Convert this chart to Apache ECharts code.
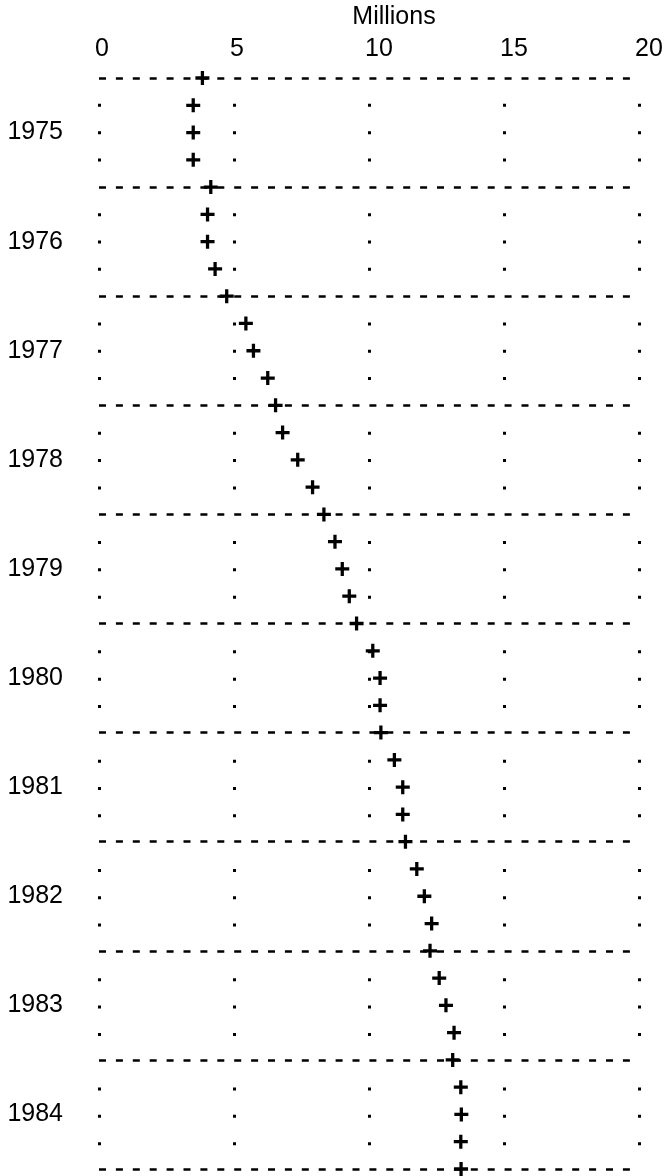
<!DOCTYPE html>
<html>
<head>
<meta charset="utf-8">
<script src="https://cdn.jsdelivr.net/npm/echarts@6/dist/echarts.min.js"></script>
<style>
html,body{margin:0;padding:0;background:#fff;}
#chart{width:668px;height:1176px;}
</style>
</head>
<body>
<div id="chart"></div>
<script>
// Quarterly observations, 1975 Q1 .. 1985 Q1
const years = ['1975','1976','1977','1978','1979','1980','1981','1982','1983','1984','1985'];
const quarters = ['Q1','Q2','Q3','Q4'];
const categories = [];
years.forEach(function (y, i) {
  quarters.forEach(function (q, j) {
    if (i < years.length - 1 || j === 0) categories.push(y + ' ' + q);
  });
});
const values = [
  3.83, 3.49, 3.49, 3.49,
  4.14, 4.02, 4.02, 4.30,
  4.73, 5.44, 5.72, 6.25,
  6.54, 6.80, 7.36, 7.91,
  8.33, 8.74, 9.01, 9.27,
  9.54, 10.14, 10.41, 10.41,
  10.44, 10.94, 11.25, 11.25,
  11.35, 11.77, 12.05, 12.32,
  12.26, 12.60, 12.85, 13.15,
  13.10, 13.40, 13.42, 13.40,
  13.41
];
const xTicks = [0, 5, 10, 15, 20];

const chart = echarts.init(document.getElementById('chart'), null, {renderer: 'canvas'});
const FONT = "'Liberation Sans', Arial, Helvetica, sans-serif";
const gridTop = 76, gridBottom = 7;
const rowStep = (1176 - gridTop - gridBottom) / (categories.length - 1);

chart.setOption({
  backgroundColor: '#fff',
  animation: false,
  grid: {left: 99, right: 29, top: gridTop, bottom: gridBottom, containLabel: false},
  xAxis: {
    type: 'value',
    position: 'top',
    min: xTicks[0],
    max: xTicks[xTicks.length - 1],
    interval: xTicks[1] - xTicks[0],
    name: 'Millions',
    nameLocation: 'middle',
    nameGap: 48,
    nameTextStyle: {fontFamily: FONT, fontSize: 25, color: '#000', padding: [0, 0, 0, 50]},
    axisLine: {show: false},
    axisTick: {show: false},
    axisLabel: {fontFamily: FONT, fontSize: 25, color: '#000', align: 'left', margin: 16, padding: [0, 0, 0, -4]},
    splitLine: {
      show: true,
      lineStyle: {
        color: '#000', width: 3,
        type: [3, rowStep - 3, 3, rowStep - 3, 3, 2 * rowStep - 3],
        dashOffset: 3 * rowStep + 1.5,
        cap: 'butt'
      }
    }
  },
  yAxis: {
    type: 'category',
    data: categories,
    inverse: true,
    boundaryGap: false,
    axisLine: {show: false},
    axisTick: {show: false},
    axisLabel: {
      fontFamily: FONT, fontSize: 25, color: '#000', margin: 36,
      interval: function (i) { return i % 4 === 2; },
      formatter: function (v) { return v.split(' ')[0]; }
    },
    splitLine: {
      show: true,
      interval: function (i) { return i % 4 === 0; },
      lineStyle: {color: '#000', width: 2.6, type: [7, 9.9]}
    }
  },
  series: [{
    type: 'scatter',
    data: values.map(function (v, i) { return [v, categories[i]]; }),
    symbol: 'path://M4.6,0H7.4V4.6H12V7.4H7.4V12H4.6V7.4H0V4.6H4.6Z',
    symbolSize: 14,
    itemStyle: {color: '#000', opacity: 1},
    z: 5
  }]
});
</script>
</body>
</html>
